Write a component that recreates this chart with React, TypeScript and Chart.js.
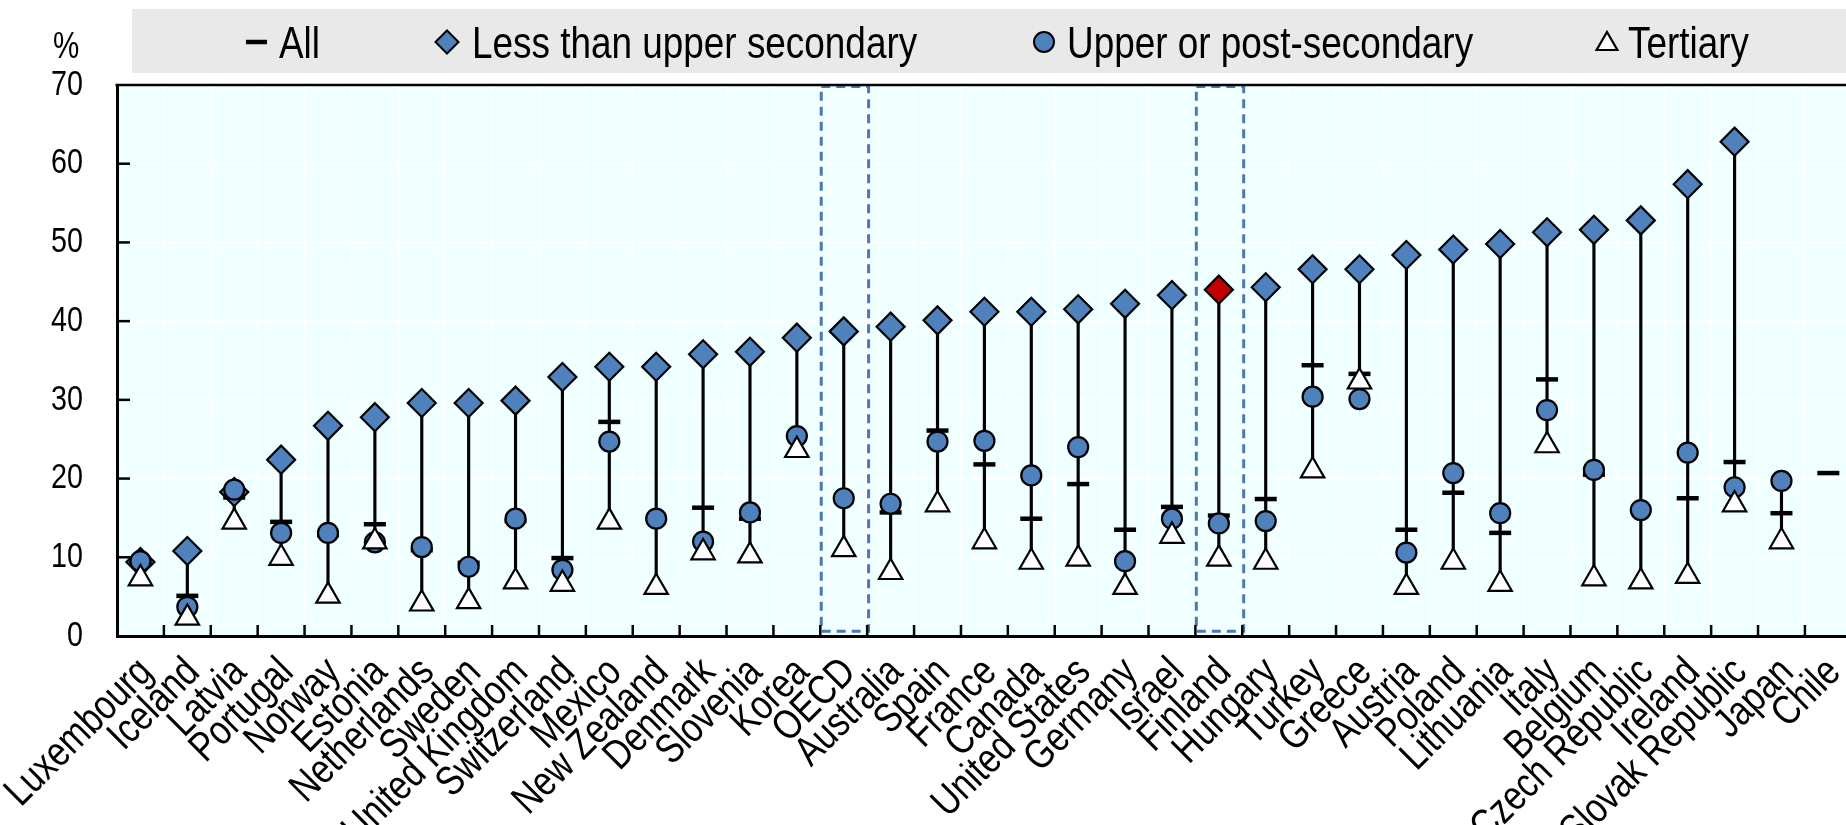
import React, { useEffect, useRef } from 'react';
import { Chart, registerables } from 'chart.js';

Chart.register(...registerables);

const categories = [
  'Luxembourg', 'Iceland', 'Latvia', 'Portugal', 'Norway', 'Estonia', 'Netherlands', 'Sweden',
  'United Kingdom', 'Switzerland', 'Mexico', 'New Zealand', 'Denmark', 'Slovenia', 'Korea', 'OECD',
  'Australia', 'Spain', 'France', 'Canada', 'United States', 'Germany', 'Israel', 'Finland',
  'Hungary', 'Turkey', 'Greece', 'Austria', 'Poland', 'Lithuania', 'Italy', 'Belgium',
  'Czech Republic', 'Ireland', 'Slovak Republic', 'Japan', 'Chile',
];

const allValues: (number | null)[] = [
  9.3, 5.1, 17.6, 14.5, 12.8, 14.2, 10.9, 9.3, 14.6, 9.9, 27.2, null, 16.3, 14.9, null, null,
  15.7, 26.1, 21.8, 14.9, 19.3, 13.5, 16.4, 15.3, 17.4, 34.4, 33.3, 13.5, 18.2, 13.1, 32.6, 20.5,
  null, 17.5, 22.1, 15.6, 20.7,
];

const lessThanUpperSecondary: (number | null)[] = [
  9.4, 10.8, 18.3, 22.4, 26.7, 27.8, 29.6, 29.6, 29.9, 32.9, 34.2, 34.2, 35.8, 36.1, 37.9, 38.7,
  39.3, 40.1, 41.2, 41.2, 41.5, 42.2, 43.3, 44.0, 44.3, 46.6, 46.6, 48.4, 49.1, 49.8, 51.3, 51.6,
  52.8, 57.4, 62.8, null, null,
];

const upperOrPostSecondary: (number | null)[] = [
  9.5, 3.7, 18.6, 13.1, 13.1, 11.9, 11.3, 8.8, 14.9, 8.4, 24.7, 14.9, 12.0, 15.7, 25.4, 17.5,
  16.8, 24.7, 24.8, 20.4, 24.0, 9.5, 14.9, 14.3, 14.6, 30.4, 30.1, 10.6, 20.7, 15.6, 28.7, 21.1,
  16.0, 23.3, 18.9, 19.7, null,
];

const tertiary: (number | null)[] = [
  7.3, 2.3, 14.5, 9.9, 5.1, 12.0, 4.1, 4.4, 6.9, 6.6, 14.5, 6.2, 10.6, 10.2, 23.6, 11.0,
  8.1, 16.7, 12.0, 9.4, 9.8, 6.2, 12.7, 9.8, 9.4, 21.0, 32.3, 6.2, 9.4, 6.6, 24.2, 7.3,
  6.9, 7.6, 16.7, 12.0, null,
];

const yTickValues = [0, 10, 20, 30, 40, 50, 60, 70];
const boxedCategories = ['OECD', 'Finland'];
const redCategory = 'Finland';
const unitLabel = '%';

const legendLabels = ['All', 'Less than upper secondary', 'Upper or post-secondary', 'Tertiary'];

const FONT = '"Liberation Sans", Arial, sans-serif';
const NARROW = 0.82;
const BLUE = '#4F81BD';
const RED = '#C00000';
const CANVAS_W = 1868;
const CANVAS_H = 825;

function narrowText(
  ctx: CanvasRenderingContext2D,
  text: string,
  x: number,
  y: number,
  size: number,
  align: CanvasTextAlign,
  baseline: CanvasTextBaseline,
) {
  ctx.save();
  ctx.translate(x, y);
  ctx.scale(NARROW, 1);
  ctx.font = `${size}px ${FONT}`;
  ctx.textAlign = align;
  ctx.textBaseline = baseline;
  ctx.fillStyle = '#000';
  ctx.fillText(text, 0, 0);
  ctx.restore();
}

function drawDiamond(ctx: CanvasRenderingContext2D, x: number, y: number, r: number, fill: string) {
  ctx.beginPath();
  ctx.moveTo(x - r, y);
  ctx.lineTo(x, y - r);
  ctx.lineTo(x + r, y);
  ctx.lineTo(x, y + r);
  ctx.closePath();
  ctx.fillStyle = fill;
  ctx.fill();
  ctx.lineWidth = 2;
  ctx.strokeStyle = '#000';
  ctx.stroke();
}

function drawTriangle(ctx: CanvasRenderingContext2D, x: number, y: number, r: number) {
  ctx.beginPath();
  ctx.moveTo(x, y - r);
  ctx.lineTo(x + 0.866 * r, y + 0.5 * r);
  ctx.lineTo(x - 0.866 * r, y + 0.5 * r);
  ctx.closePath();
  ctx.fillStyle = '#fff';
  ctx.fill();
  ctx.lineWidth = 2.2;
  ctx.strokeStyle = '#000';
  ctx.stroke();
}

const decorPlugin = {
  id: 'decor',
  beforeDraw(chart: any) {
    const { ctx, chartArea: a } = chart;
    ctx.save();
    ctx.fillStyle = '#F0FFFF';
    ctx.fillRect(a.left, a.top, a.right - a.left, a.bottom - a.top);
    ctx.fillStyle = '#E9E9E9';
    ctx.fillRect(132, 9, CANVAS_W - 132, 64);
    ctx.restore();
  },
  afterDatasetsDraw(chart: any) {
    const { ctx, chartArea: a } = chart;
    const xs = chart.scales.x;
    const ys = chart.scales.y;
    const band = xs.getPixelForValue(1) - xs.getPixelForValue(0);
    ctx.save();
    ctx.setLineDash([9, 6]);
    ctx.strokeStyle = '#4A7AAE';
    ctx.lineWidth = 3;
    boxedCategories.forEach((c) => {
      const idx = categories.indexOf(c);
      const cx = xs.getPixelForValue(idx);
      const left = cx - band * 0.48;
      const right = cx + band * 0.53;
      const top = a.top + 1.5;
      const bottom = ys.getPixelForValue(0.6);
      ctx.strokeRect(left, top, right - left, bottom - top);
    });
    ctx.restore();
  },
  afterDraw(chart: any) {
    const { ctx, chartArea: a } = chart;
    const xs = chart.scales.x;
    const ys = chart.scales.y;
    ctx.save();
    ctx.strokeStyle = '#000';
    ctx.lineWidth = 2.6;
    ctx.beginPath();
    ctx.moveTo(a.left - 1.5, a.top);
    ctx.lineTo(a.right, a.top);
    ctx.stroke();
    ctx.lineWidth = 2.5;
    yTickValues.slice(1, -1).forEach((v) => {
      const y = ys.getPixelForValue(v);
      ctx.beginPath();
      ctx.moveTo(a.left, y);
      ctx.lineTo(a.left + 13, y);
      ctx.stroke();
    });
    for (let i = 1; i < categories.length; i++) {
      const bx = (xs.getPixelForValue(i - 1) + xs.getPixelForValue(i)) / 2;
      ctx.beginPath();
      ctx.moveTo(bx, a.bottom);
      ctx.lineTo(bx, a.bottom - 11);
      ctx.stroke();
    }
    yTickValues.forEach((v) => {
      narrowText(ctx, String(v), a.left - 34, ys.getPixelForValue(v), 35, 'right', 'middle');
    });
    categories.forEach((c, i) => {
      const cx = xs.getPixelForValue(i);
      ctx.save();
      ctx.translate(cx + 14, a.bottom + 38);
      ctx.rotate(-Math.PI / 4);
      ctx.scale(NARROW, 1);
      ctx.font = `41.5px ${FONT}`;
      ctx.textAlign = 'right';
      ctx.textBaseline = 'alphabetic';
      ctx.fillStyle = '#000';
      ctx.fillText(c, 0, 0);
      ctx.restore();
    });
    narrowText(ctx, unitLabel, 53, 58, 36, 'left', 'alphabetic');
    const ly = 42;
    ctx.strokeStyle = '#000';
    ctx.lineWidth = 4.5;
    ctx.beginPath();
    ctx.moveTo(246, ly);
    ctx.lineTo(267, ly);
    ctx.stroke();
    narrowText(ctx, legendLabels[0], 279, 58, 45, 'left', 'alphabetic');
    drawDiamond(ctx, 447, ly, 11.5, BLUE);
    narrowText(ctx, legendLabels[1], 472, 58, 45, 'left', 'alphabetic');
    ctx.beginPath();
    ctx.arc(1044, ly, 10, 0, Math.PI * 2);
    ctx.fillStyle = BLUE;
    ctx.fill();
    ctx.lineWidth = 2;
    ctx.strokeStyle = '#000';
    ctx.stroke();
    narrowText(ctx, legendLabels[2], 1067, 58, 45, 'left', 'alphabetic');
    drawTriangle(ctx, 1607, 44, 12);
    narrowText(ctx, legendLabels[3], 1628, 58, 45, 'left', 'alphabetic');
    ctx.restore();
  },
};

export default function App() {
  const ref = useRef<HTMLCanvasElement>(null);

  useEffect(() => {
    const canvas = ref.current;
    if (!canvas) return;

    const ranges = categories.map((_, i) => {
      const vals = [allValues[i], lessThanUpperSecondary[i], upperOrPostSecondary[i], tertiary[i]]
        .filter((v) => v !== null && v !== undefined) as number[];
      if (vals.length < 2) return null;
      return [Math.min(...vals), Math.max(...vals)];
    });

    const chart = new Chart(canvas, {
      type: 'bar',
      data: {
        labels: categories,
        datasets: [
          {
            type: 'line',
            label: legendLabels[3],
            data: tertiary,
            showLine: false,
            pointStyle: 'triangle',
            pointRadius: 13.5,
            pointHoverRadius: 13.5,
            pointBackgroundColor: '#fff',
            pointBorderColor: '#000',
            pointBorderWidth: 2.2,
            order: 1,
            clip: false,
          } as any,
          {
            type: 'line',
            label: legendLabels[2],
            data: upperOrPostSecondary,
            showLine: false,
            pointStyle: 'circle',
            pointRadius: 10,
            pointHoverRadius: 10,
            pointBackgroundColor: BLUE,
            pointBorderColor: '#000',
            pointBorderWidth: 2.2,
            order: 2,
            clip: false,
          } as any,
          {
            type: 'line',
            label: legendLabels[0],
            data: allValues,
            showLine: false,
            pointStyle: 'line',
            pointRadius: 11,
            pointHoverRadius: 11,
            pointBorderColor: '#000',
            pointBackgroundColor: '#000',
            pointBorderWidth: 4.5,
            order: 3,
            clip: false,
          } as any,
          {
            type: 'line',
            label: legendLabels[1],
            data: lessThanUpperSecondary,
            showLine: false,
            pointStyle: 'rectRot',
            pointRadius: 14,
            pointHoverRadius: 14,
            pointBackgroundColor: categories.map((c) => (c === redCategory ? RED : BLUE)),
            pointBorderColor: '#000',
            pointBorderWidth: 2.2,
            order: 4,
            clip: false,
          } as any,
          {
            type: 'bar',
            label: 'range',
            data: ranges as any,
            backgroundColor: '#000',
            barThickness: 2.5,
            order: 5,
          } as any,
        ],
      },
      options: {
        responsive: false,
        animation: false,
        events: [],
        layout: { padding: { left: 0, right: 4, top: 85, bottom: 0 } },
        plugins: {
          legend: { display: false },
          tooltip: { enabled: false },
        },
        scales: {
          x: {
            offset: true,
            grid: { color: '#ffffff', lineWidth: 1.5, offset: true, drawTicks: false },
            border: { color: '#000', width: 3 },
            ticks: { display: false, autoSkip: false },
            afterFit: (s: any) => {
              s.height = 189;
            },
          },
          y: {
            min: 0,
            max: 70,
            ticks: { display: false, stepSize: 10 },
            grid: { color: '#ffffff', lineWidth: 1.5, drawTicks: false },
            border: { color: '#000', width: 3 },
            afterFit: (s: any) => {
              s.width = 117;
            },
          },
        },
      } as any,
      plugins: [decorPlugin],
    });

    return () => chart.destroy();
  }, []);

  return (
    <div
      style={{
        position: 'absolute',
        left: 0,
        top: 0,
        width: 1846,
        height: 825,
        overflow: 'hidden',
        background: '#fff',
      }}
    >
      <canvas ref={ref} width={CANVAS_W} height={CANVAS_H} style={{ display: 'block' }} />
    </div>
  );
}
